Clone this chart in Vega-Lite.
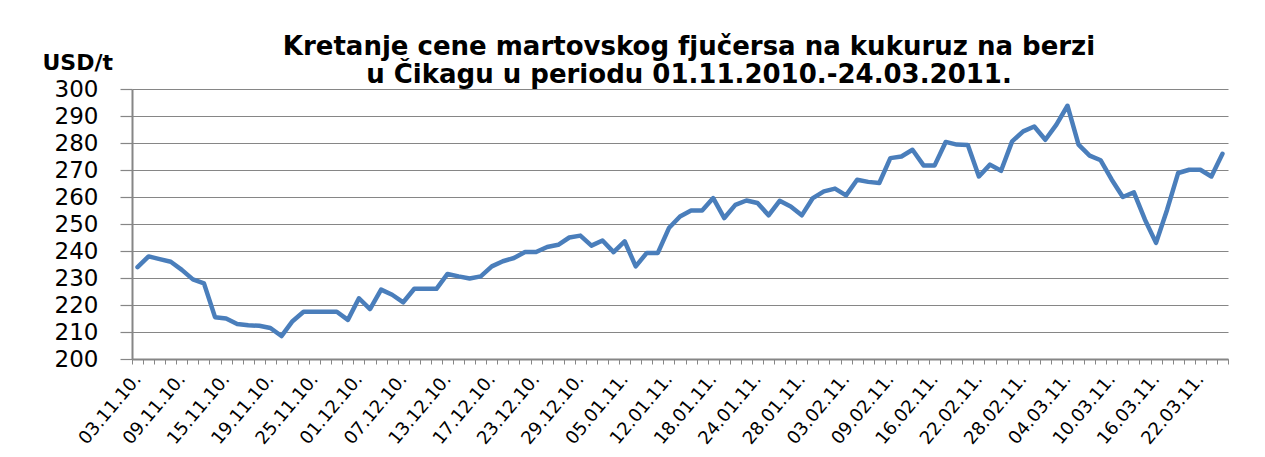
{
  "$schema": "https://vega.github.io/schema/vega-lite/v6.json",
  "width": 1096,
  "height": 270,
  "autosize": {"type": "none"},
  "padding": {"left": 132, "top": 89, "right": 37, "bottom": 98},
  "background": "white",
  "title": {
    "text": ["Kretanje cene martovskog fjučersa na kukuruz na berzi", "u Čikagu u periodu 01.11.2010.-24.03.2011."],
    "font": "DejaVu Sans",
    "fontSize": 26,
    "fontWeight": "bold",
    "color": "black",
    "lineHeight": 28,
    "anchor": "middle",
    "offset": -37,
    "dx": 9
  },
  "data": {
    "values": [
      {"datum": "03.11.10.", "cena": 234},
      {"datum": "04.11.10.", "cena": 238},
      {"datum": "05.11.10.", "cena": 237},
      {"datum": "08.11.10.", "cena": 236},
      {"datum": "09.11.10.", "cena": 233},
      {"datum": "10.11.10.", "cena": 229.5},
      {"datum": "11.11.10.", "cena": 228},
      {"datum": "12.11.10.", "cena": 215.5},
      {"datum": "15.11.10.", "cena": 215},
      {"datum": "16.11.10.", "cena": 213},
      {"datum": "17.11.10.", "cena": 212.5},
      {"datum": "18.11.10.", "cena": 212.3},
      {"datum": "19.11.10.", "cena": 211.5},
      {"datum": "22.11.10.", "cena": 208.5},
      {"datum": "23.11.10.", "cena": 214},
      {"datum": "24.11.10.", "cena": 217.5},
      {"datum": "25.11.10.", "cena": 217.5},
      {"datum": "26.11.10.", "cena": 217.5},
      {"datum": "29.11.10.", "cena": 217.5},
      {"datum": "30.11.10.", "cena": 214.5},
      {"datum": "01.12.10.", "cena": 222.5},
      {"datum": "02.12.10.", "cena": 218.5},
      {"datum": "03.12.10.", "cena": 225.7},
      {"datum": "06.12.10.", "cena": 223.8},
      {"datum": "07.12.10.", "cena": 221},
      {"datum": "08.12.10.", "cena": 226},
      {"datum": "09.12.10.", "cena": 226},
      {"datum": "10.12.10.", "cena": 226},
      {"datum": "13.12.10.", "cena": 231.5},
      {"datum": "14.12.10.", "cena": 230.6},
      {"datum": "15.12.10.", "cena": 229.8},
      {"datum": "16.12.10.", "cena": 230.6},
      {"datum": "17.12.10.", "cena": 234.3},
      {"datum": "20.12.10.", "cena": 236.2},
      {"datum": "21.12.10.", "cena": 237.4},
      {"datum": "22.12.10.", "cena": 239.6},
      {"datum": "23.12.10.", "cena": 239.6},
      {"datum": "24.12.10.", "cena": 241.5},
      {"datum": "27.12.10.", "cena": 242.3},
      {"datum": "28.12.10.", "cena": 245},
      {"datum": "29.12.10.", "cena": 245.7},
      {"datum": "30.12.10.", "cena": 242},
      {"datum": "31.12.10.", "cena": 243.9},
      {"datum": "04.01.11.", "cena": 239.6},
      {"datum": "05.01.11.", "cena": 243.6},
      {"datum": "06.01.11.", "cena": 234.3},
      {"datum": "10.01.11.", "cena": 239.3},
      {"datum": "11.01.11.", "cena": 239.3},
      {"datum": "12.01.11.", "cena": 248.5},
      {"datum": "13.01.11.", "cena": 252.8},
      {"datum": "14.01.11.", "cena": 255},
      {"datum": "17.01.11.", "cena": 255},
      {"datum": "18.01.11.", "cena": 259.6},
      {"datum": "19.01.11.", "cena": 252.2},
      {"datum": "20.01.11.", "cena": 257.1},
      {"datum": "21.01.11.", "cena": 258.7},
      {"datum": "24.01.11.", "cena": 257.8},
      {"datum": "25.01.11.", "cena": 253.2},
      {"datum": "26.01.11.", "cena": 258.6},
      {"datum": "27.01.11.", "cena": 256.5},
      {"datum": "28.01.11.", "cena": 253.2},
      {"datum": "31.01.11.", "cena": 259.6},
      {"datum": "01.02.11.", "cena": 262.1},
      {"datum": "02.02.11.", "cena": 263.1},
      {"datum": "03.02.11.", "cena": 260.6},
      {"datum": "04.02.11.", "cena": 266.4},
      {"datum": "07.02.11.", "cena": 265.6},
      {"datum": "08.02.11.", "cena": 265.2},
      {"datum": "09.02.11.", "cena": 274.4},
      {"datum": "10.02.11.", "cena": 275},
      {"datum": "11.02.11.", "cena": 277.5},
      {"datum": "14.02.11.", "cena": 271.7},
      {"datum": "16.02.11.", "cena": 271.7},
      {"datum": "17.02.11.", "cena": 280.4},
      {"datum": "18.02.11.", "cena": 279.4},
      {"datum": "21.02.11.", "cena": 279.3},
      {"datum": "22.02.11.", "cena": 267.6},
      {"datum": "23.02.11.", "cena": 272},
      {"datum": "24.02.11.", "cena": 269.7},
      {"datum": "25.02.11.", "cena": 280.6},
      {"datum": "28.02.11.", "cena": 284.3},
      {"datum": "01.03.11.", "cena": 286.1},
      {"datum": "02.03.11.", "cena": 281.2},
      {"datum": "03.03.11.", "cena": 286.8},
      {"datum": "04.03.11.", "cena": 293.8},
      {"datum": "07.03.11.", "cena": 279.4},
      {"datum": "08.03.11.", "cena": 275.3},
      {"datum": "09.03.11.", "cena": 273.6},
      {"datum": "10.03.11.", "cena": 266.4},
      {"datum": "11.03.11.", "cena": 260},
      {"datum": "14.03.11.", "cena": 261.7},
      {"datum": "15.03.11.", "cena": 251.6},
      {"datum": "16.03.11.", "cena": 243},
      {"datum": "17.03.11.", "cena": 255.3},
      {"datum": "18.03.11.", "cena": 268.9},
      {"datum": "21.03.11.", "cena": 270.1},
      {"datum": "22.03.11.", "cena": 270.1},
      {"datum": "23.03.11.", "cena": 267.6},
      {"datum": "24.03.11.", "cena": 276}
    ]
  },
  "mark": {"type": "line", "color": "#4a7ebb", "strokeWidth": 4.5, "strokeJoin": "round", "strokeCap": "round"},
  "encoding": {
    "x": {
      "field": "datum",
      "type": "ordinal",
      "sort": null,
      "scale": {"type": "band", "paddingInner": 0, "paddingOuter": 0},
      "axis": {
        "title": null,
        "tickBand": "extent",
        "tickSize": 5,
        "tickColor": "#868686",
        "tickWidth": 1,
        "domainColor": "#868686",
        "domainWidth": 2,
        "labelAngle": -50,
        "labelAlign": "right",
        "labelBaseline": "middle",
        "labelPadding": 12,
        "labelFont": "DejaVu Sans",
        "labelFontSize": 18,
        "labelColor": "black",
        "labelOverlap": false,
        "labelExpr": "indexof(['03.11.10.','09.11.10.','15.11.10.','19.11.10.','25.11.10.','01.12.10.','07.12.10.','13.12.10.','17.12.10.','23.12.10.','29.12.10.','05.01.11.','12.01.11.','18.01.11.','24.01.11.','28.01.11.','03.02.11.','09.02.11.','16.02.11.','22.02.11.','28.02.11.','04.03.11.','10.03.11.','16.03.11.','22.03.11.'], datum.label) >= 0 ? datum.label : ''"
      }
    },
    "y": {
      "field": "cena",
      "type": "quantitative",
      "scale": {"domain": [200, 300], "nice": false, "zero": false},
      "axis": {
        "title": "USD/t",
        "titleAngle": 0,
        "titleAlign": "left",
        "titleBaseline": "middle",
        "titleX": -90,
        "titleY": -27,
        "titleFont": "DejaVu Sans",
        "titleFontSize": 22,
        "titleFontWeight": "bold",
        "titleColor": "black",
        "values": [200, 210, 220, 230, 240, 250, 260, 270, 280, 290, 300],
        "grid": true,
        "gridColor": "#868686",
        "gridWidth": 1.2,
        "tickSize": 12,
        "tickColor": "#868686",
        "tickWidth": 1.2,
        "domainColor": "#868686",
        "domainWidth": 2,
        "labelPadding": 22,
        "labelFont": "DejaVu Sans",
        "labelFontSize": 23,
        "labelColor": "black"
      }
    }
  },
  "config": {"view": {"stroke": null}}
}
